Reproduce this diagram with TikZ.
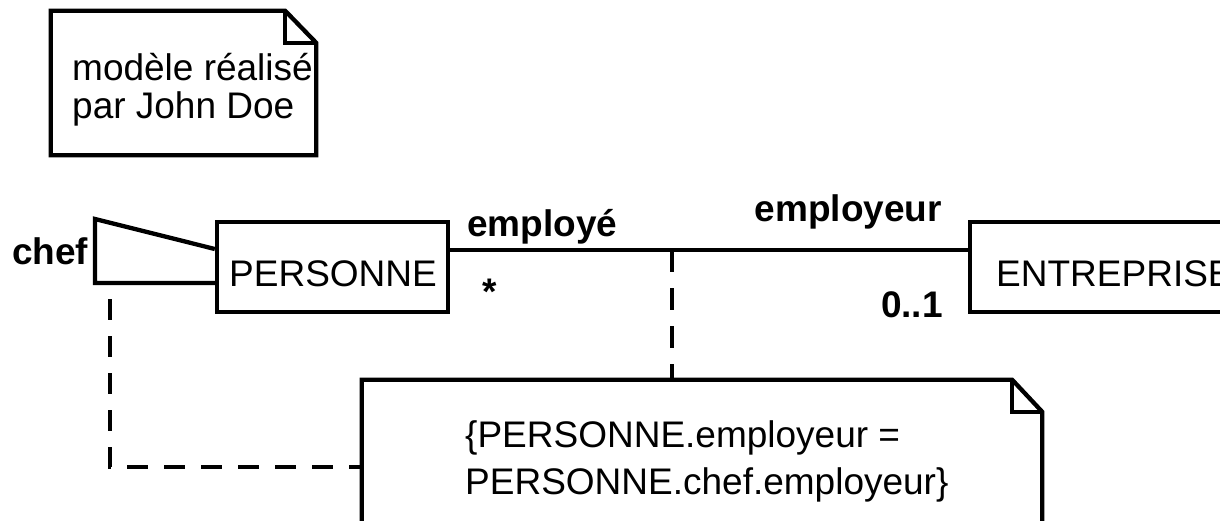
\documentclass[tikz,border=0pt]{standalone}
\usepackage{fontspec}
\setmainfont{Liberation Sans}
\begin{document}
\begin{tikzpicture}[x=1pt,y=-1pt,
  line/.style={line width=4.3pt, line join=miter},
  dashl/.style={line width=4.5pt, dash pattern=on 21pt off 16pt},
  boxnode/.style={draw, line width=4.3pt, rectangle, inner sep=0pt, minimum width=#1, minimum height=90pt},
  area/.style={rectangle, inner sep=0pt},
  txt/.style={inner sep=0pt, font=\fontsize{37}{40}\selectfont},
  btxt/.style={inner sep=0pt, font=\fontsize{37}{40}\selectfont\bfseries}
]
\useasboundingbox (0,0) rectangle (1220,521);
\fill[white] (0,0) rectangle (1220,521);
\clip (0,0) rectangle (1220,521);

% note 1
\node[area, minimum width=265pt, minimum height=144pt] (note1) at (183.5,83) {};
\draw[line] (note1.north west) -- ([xshift=-31pt]note1.north east) -- ([yshift=-32pt]note1.north east) -- (note1.south east) -- (note1.south west) -- cycle;
\draw[line] ([xshift=-31pt]note1.north east) |- ([yshift=-32pt]note1.north east);
\node[txt, anchor=base west] (n1a) at (72,81) {modèle réalisé};
\node[txt, anchor=base west] (n1b) at (72,119) {par John Doe};

% classes
\node[boxnode=231pt] (pers) at (332.5,267) {};
\node[txt, anchor=base west] (perst) at (229,287) {PERSONNE};
\node[boxnode=330pt] (ent) at (1135,267) {};
\node[txt, anchor=base west] (entt) at (996,287) {ENTREPRISE};

% association
\draw[line] ([yshift=17pt]pers.east) coordinate (a1) -- ([yshift=17pt]ent.west) coordinate (a2);
\node[btxt, anchor=base west] (lemploye) at (467,237) {employé};
\node[btxt, anchor=base west] (lstar) at (482,304) {*};
\node[btxt, anchor=base east] (lemployeur) at (942,222) {employeur};
\node[btxt, anchor=base east] (lzero) at (943,317) {0..1};

% self association
\coordinate (sat) at (95,219);
\coordinate (sab) at (95,283);
\draw[line] ([yshift=18pt]pers.west) -- (sat) -- (sab) -- (sab -| pers.west);
\node[btxt, anchor=base west] (lchef) at (12,265) {chef};

% note 2
\node[area, minimum width=680pt, minimum height=143pt] (note2) at (702,451.5) {};
\draw[line, fill=white] (note2.north west) -- ([xshift=-30pt]note2.north east) -- ([yshift=-32pt]note2.north east) -- (note2.south east) -- (note2.south west) -- cycle;
\draw[line] ([xshift=-30pt]note2.north east) |- ([yshift=-32pt]note2.north east);
\node[txt, anchor=base west] (n2a) at (465,447) {\{PERSONNE.employeur =};
\node[txt, anchor=base west] (n2b) at (465,494) {PERSONNE.chef.employeur\}};

% constraint links
\coordinate (nt) at ([xshift=-30pt]note2.north);
\draw[dashl, dash pattern=on 22pt off 16pt] (nt |- a1) -- (nt);
\draw[dashl, dash phase=21pt] ([xshift=15pt]sab) |- ([yshift=-15.5pt]note2.west);
\end{tikzpicture}
\end{document}
